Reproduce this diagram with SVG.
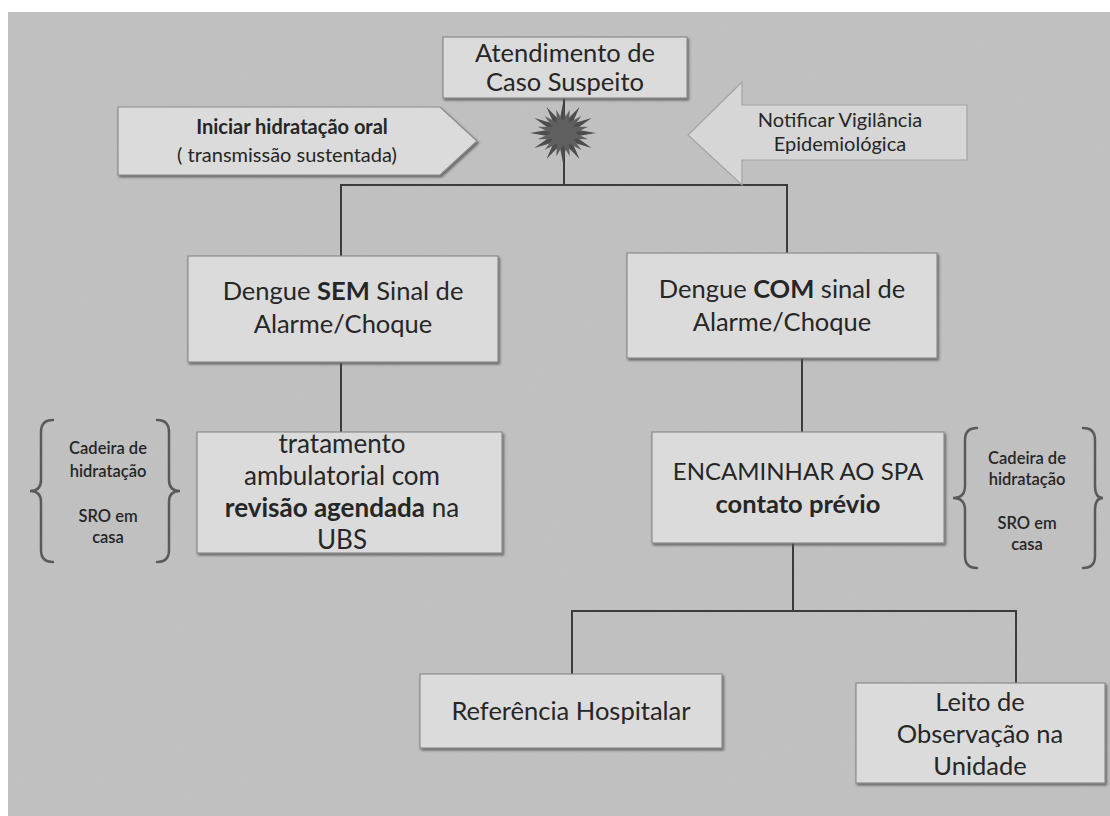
<svg xmlns="http://www.w3.org/2000/svg" width="1110" height="816" viewBox="0 0 1110 816">
<defs>
<filter id="noise" x="0" y="0" width="100%" height="100%">
<feTurbulence type="fractalNoise" baseFrequency="0.9" numOctaves="2" seed="3" result="t"/>
<feColorMatrix in="t" type="matrix" values="0 0 0 0 0.45  0 0 0 0 0.45  0 0 0 0 0.45  0 0 0 0.35 0"/>
</filter>
<filter id="shadow" x="-5%" y="-5%" width="110%" height="115%">
<feDropShadow dx="1.5" dy="2" stdDeviation="1.2" flood-color="#555" flood-opacity="0.8"/>
</filter>
<filter id="soft" x="-20%" y="-20%" width="140%" height="140%">
<feGaussianBlur stdDeviation="0.7"/>
</filter>
</defs>
<style>
.box{fill:#dbdbdb;stroke:#8c8c8c;stroke-width:1.2;filter:url(#shadow)}
.arrowR{fill:#d6d6d6;stroke:#a3a3a3;stroke-width:1.2}
.t{font-family:Lato,"Liberation Sans",sans-serif;fill:#262626;text-anchor:middle}
.big{font-size:25.5px}
.mid{font-size:20px}
.sm{font-size:16.5px;font-weight:600}
.conn{stroke:#3c3c3c;stroke-width:2;fill:none}
.brace{stroke:#5a5a5a;stroke-width:2.5;fill:none;stroke-linecap:round}
</style>
<rect x="0" y="0" width="1110" height="816" fill="#ffffff"/>
<rect x="8" y="12" width="1102" height="804" fill="#c3c3c3"/>
<rect x="8" y="12" width="1102" height="804" filter="url(#noise)"/>

<g id="connectors">
<path class="conn" d="M564,98 V185"/>
<path class="conn" d="M341,256 V185 H787 V253"/>
<path class="conn" d="M341,362 V432"/>
<path class="conn" d="M802,358 V432"/>
<path class="conn" d="M793,543 V611"/>
<path class="conn" d="M572,674 V611 H1016 V683"/>
</g>

<g id="star">
<polygon fill="#4d4d4d" filter="url(#soft)" points="596,133 575.6,136.4 591.6,148 572.2,142.2 579.5,159 566.4,145.6 563,163 559.6,145.6 546.5,159 553.8,142.2 534.4,148 550.4,136.4 530,133 550.4,129.6 534.4,118 553.8,123.8 546.5,107 559.6,120.4 563,103 566.4,120.4 579.5,107 572.2,123.8 591.6,118 575.6,129.6"/>
<polygon fill="#5e5e5e" filter="url(#soft)" points="575,133 588.1,139.2 573.4,139 581.4,150 569,143.4 569.7,156.2 563,145 556.3,156.2 557,143.4 544.6,150 552.6,139 537.9,139.2 551,133 537.9,126.8 552.6,127 544.6,116 557,122.6 556.3,109.8 563,121 569.7,109.8 569,122.6 581.4,116 573.4,127 588.1,126.8"/>
</g>

<g id="atendimento">
<rect class="box" x="443" y="37" width="244" height="61"/>
<text class="t" x="565" y="62" style="font-size:25.5px">Atendimento de</text>
<text class="t" x="565" y="91" style="font-size:25.5px">Caso Suspeito</text>
</g>

<g id="hidratacao">
<polygon class="box" points="118,107 440,107 477,141 440,175 118,175"/>
<text class="t mid" x="292" y="134" font-weight="bold">Iniciar hidratação oral</text>
<text class="t mid" x="287" y="162">( transmissão sustentada)</text>
</g>

<g id="notificar">
<polygon class="arrowR" points="688,135 742,82 742,105 967,105 967,160 742,160 742,185"/>
<text class="t mid" x="840" y="127">Notificar Vigilância</text>
<text class="t mid" x="840" y="151">Epidemiológica</text>
</g>

<g id="sem">
<rect class="box" x="188" y="256" width="310" height="106"/>
<text class="t big" x="343" y="300">Dengue <tspan font-weight="bold">SEM</tspan> Sinal de</text>
<text class="t big" x="343" y="333">Alarme/Choque</text>
</g>

<g id="com">
<rect class="box" x="627" y="253" width="310" height="105"/>
<text class="t big" x="782" y="298">Dengue <tspan font-weight="bold">COM</tspan> sinal de</text>
<text class="t big" x="782" y="331">Alarme/Choque</text>
</g>

<g id="tratamento">
<rect class="box" x="197" y="432" width="305" height="121"/>
<text class="t" x="342" y="453" style="font-size:26px">tratamento</text>
<text class="t" x="342" y="485" style="font-size:26px">ambulatorial com</text>
<text class="t" x="342" y="517" style="font-size:26px"><tspan font-weight="bold">revisão agendada</tspan> na</text>
<text class="t" x="342" y="549" style="font-size:26px">UBS</text>
</g>

<g id="brace-left">
<path class="brace" d="M53,420 Q41,420 41,432 L41,480 Q41,491 30,491 Q41,491 41,502 L41,550 Q41,562 53,562"/>
<path class="brace" d="M157,420 Q169,420 169,432 L169,480 Q169,491 180,491 Q169,491 169,502 L169,550 Q169,562 157,562"/>
<text class="t sm" x="108" y="454">Cadeira de</text>
<text class="t sm" x="108" y="477">hidratação</text>
<text class="t sm" x="108" y="522">SRO em</text>
<text class="t sm" x="108" y="543">casa</text>
</g>

<g id="encaminhar">
<rect class="box" x="652" y="432" width="292" height="111"/>
<text class="t" x="798" y="480" style="font-size:24px">ENCAMINHAR AO SPA</text>
<text class="t" x="798" y="513" style="font-size:25.5px" font-weight="bold">contato prévio</text>
</g>

<g id="brace-right">
<path class="brace" d="M977,428 Q965,428 965,440 L965,486 Q965,498 953,498 Q965,498 965,510 L965,556 Q965,568 977,568"/>
<path class="brace" d="M1083,428 Q1095,428 1095,440 L1095,486 Q1095,498 1103,498 Q1095,498 1095,510 L1095,556 Q1095,568 1083,568"/>
<text class="t sm" x="1027" y="464">Cadeira de</text>
<text class="t sm" x="1027" y="485">hidratação</text>
<text class="t sm" x="1027" y="529">SRO em</text>
<text class="t sm" x="1027" y="550">casa</text>
</g>

<g id="referencia">
<rect class="box" x="420" y="674" width="302" height="74"/>
<text class="t big" x="571" y="720">Referência Hospitalar</text>
</g>

<g id="leito">
<rect class="box" x="856" y="683" width="249" height="100"/>
<text class="t big" x="980" y="711">Leito de</text>
<text class="t big" x="980" y="743">Observação na</text>
<text class="t big" x="980" y="775">Unidade</text>
</g>
</svg>
